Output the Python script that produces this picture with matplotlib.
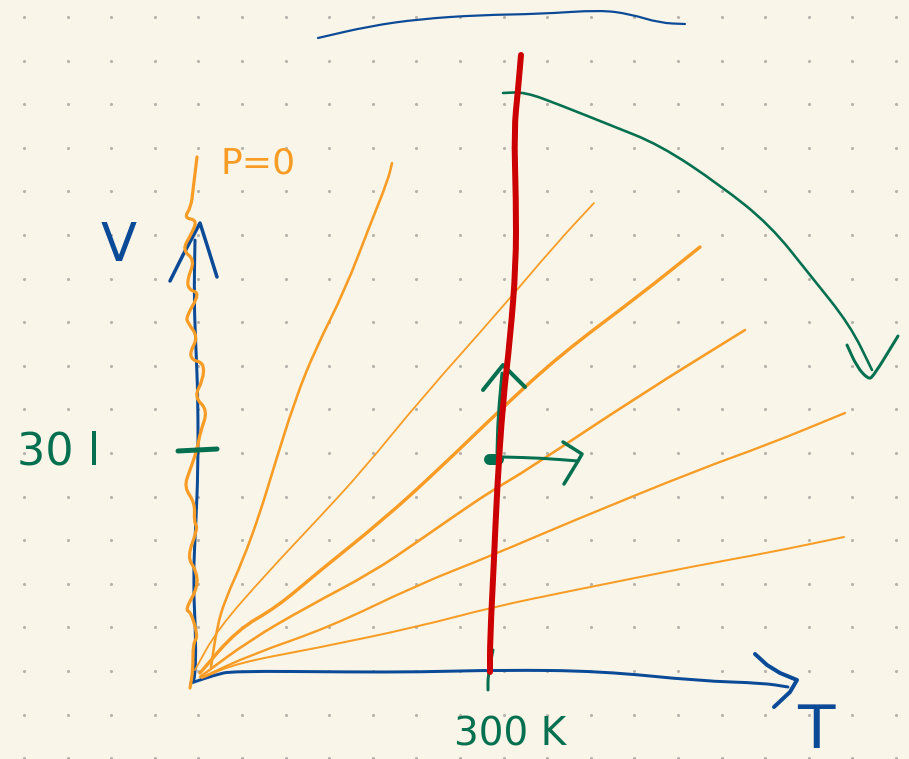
# V-T sketch: isobars, 300 K isotherm, hand-drawn look
import numpy as np
import matplotlib.pyplot as plt
from matplotlib.path import Path
from matplotlib.patches import PathPatch

W = 909
H = 759
BG = '#f9f6e9'
ORANGE = '#f89c25'
BLUE = '#0b4a97'
GREEN = '#04704f'
RED = '#cc0000'

# all strokes are (x, y)
top_x = [318, 370, 420, 480, 540, 600, 630, 660, 685]
top_y = [38, 26, 19, 15, 14, 10, 14, 23, 24]

wavy_x = [197, 193, 191, 184, 197, 192, 182, 195, 187, 189, 200, 186, 188, 198, 190, 192, 204, 203, 194, 208,
          200, 197, 190, 184, 195, 194, 198, 187, 196, 198, 185, 191, 198, 193, 193, 190]
wavy_y = [157, 190, 207, 218, 220, 233, 250, 260, 280, 290, 293, 317, 323, 337, 352, 360, 363, 380, 397, 410,
          433, 450, 470, 487, 503, 522, 528, 557, 570, 587, 610, 612, 637, 643, 670, 688]

iso_a_x = [392, 388, 370, 345, 315, 295, 273, 260, 243, 225, 217, 211]
iso_a_y = [163, 180, 225, 290, 350, 400, 470, 513, 560, 600, 627, 667]
iso_b_x = [594, 555, 500, 420, 363, 317, 267, 217, 195]
iso_b_y = [203, 245, 310, 400, 470, 520, 573, 630, 670]
iso_c_x = [700, 640, 560, 500, 438, 383, 317, 277, 237, 200]
iso_c_y = [247, 295, 355, 410, 470, 520, 573, 607, 630, 673]
iso_d_x = [745, 640, 527, 493, 463, 417, 373, 307, 250, 200]
iso_d_y = [330, 395, 470, 490, 510, 542, 572, 607, 640, 677]
iso_e_x = [845, 767, 700, 570, 493, 417, 330, 250, 203]
iso_e_y = [413, 445, 469, 522, 555, 585, 627, 655, 677]
iso_f_x = [844, 767, 700, 570, 493, 417, 317, 237, 202]
iso_f_y = [537, 553, 565, 591, 607, 627, 648, 663, 678]

v_axis_x = [195, 194, 196, 198, 198, 196, 193, 196, 195, 191]
v_axis_y = [240, 300, 350, 400, 470, 520, 580, 640, 680, 683]
v_head_x = [170, 183, 200, 207, 217]
v_head_y = [281, 255, 223, 245, 277]
t_axis_x = [191, 215, 232, 350, 420, 500, 600, 700, 763, 788]
t_axis_y = [683, 675, 671, 672, 672, 670, 671, 681, 683, 687]
t_head_x = [755, 767, 780, 797, 790, 774]
t_head_y = [654, 665, 673, 680, 692, 707]

red_x = [521, 518, 514, 516, 516, 510, 503, 497, 494, 490, 490]
red_y = [55, 90, 130, 200, 265, 340, 400, 490, 560, 640, 672]

proc_x = [503, 525, 560, 610, 660, 720, 770, 810, 850, 872]
proc_y = [93, 92, 105, 125, 145, 185, 225, 275, 325, 370]
proc_head_x = [847, 857, 868, 873, 898]
proc_head_y = [345, 367, 379, 377, 336]

tick_t_x = [493, 488, 488]
tick_t_y = [650, 675, 690]
tick_v_x = [178, 217]
tick_v_y = [451, 449]

up_x = [497, 498, 502]
up_y = [453, 417, 373]
up_head_x = [483, 503, 525]
up_head_y = [390, 365, 387]
right_x = [503, 540, 578]
right_y = [457, 458, 461]
right_head_x = [563, 582, 578, 564]
right_head_y = [442, 454, 461, 484]
blob_x = [489, 498]
blob_y = [459, 459]

fig = plt.figure(figsize=(W / 100, H / 100), dpi=100, facecolor=BG)
ax = fig.add_axes([0, 0, 1, 1])
ax.set_xlim(0, W)
ax.set_ylim(H, 0)
ax.axis('off')

# dotted paper
dots_x, dots_y = np.meshgrid(np.arange(24, W, 43.6), np.arange(17, H, 43.6))
ax.scatter(dots_x.ravel(), dots_y.ravel(), s=5, c='#b5b3ab', linewidths=0, zorder=1)


def stroke(x, y, color, px, z=2):
    ax.plot(x, y, color=color, lw=px * 0.72, solid_capstyle='round', solid_joinstyle='round', zorder=z)


def curve(x, y, color, px, z=2):
    # quadratic pieces through the midpoints, so the pen line has no corners
    pts = np.column_stack([x, y])
    mids = (pts[:-1] + pts[1:]) / 2
    verts = [pts[0], mids[0]]
    codes = [Path.MOVETO, Path.LINETO]
    for i in range(1, len(pts) - 1):
        verts += [pts[i], mids[i]]
        codes += [Path.CURVE3, Path.CURVE3]
    verts.append(pts[-1])
    codes.append(Path.LINETO)
    ax.add_patch(PathPatch(Path(verts, codes), fc='none', ec=color, lw=px * 0.72,
                           capstyle='round', joinstyle='round', zorder=z))


curve(top_x, top_y, BLUE, 2.2)
curve(v_axis_x, v_axis_y, BLUE, 3)
stroke(v_head_x, v_head_y, BLUE, 3.5)
curve(t_axis_x, t_axis_y, BLUE, 3)
stroke(t_head_x, t_head_y, BLUE, 4)

curve(wavy_x, wavy_y, ORANGE, 3.2, 3)
curve(iso_a_x, iso_a_y, ORANGE, 2.6, 3)
curve(iso_b_x, iso_b_y, ORANGE, 1.8, 3)
curve(iso_c_x, iso_c_y, ORANGE, 3.4, 3)
curve(iso_d_x, iso_d_y, ORANGE, 2.6, 3)
curve(iso_e_x, iso_e_y, ORANGE, 2.3, 3)
curve(iso_f_x, iso_f_y, ORANGE, 2, 3)

curve(tick_t_x, tick_t_y, GREEN, 3, 3)
stroke(tick_v_x, tick_v_y, GREEN, 5, 4)
curve(proc_x, proc_y, GREEN, 2.6, 4)
curve(proc_head_x, proc_head_y, GREEN, 3, 4)
curve(up_x, up_y, GREEN, 3, 4)
stroke(up_head_x, up_head_y, GREEN, 4, 4)
curve(right_x, right_y, GREEN, 3, 4)
stroke(right_head_x, right_head_y, GREEN, 3.5, 4)
stroke(blob_x, blob_y, GREEN, 11, 4)

curve(red_x, red_y, RED, 6, 5)

ax.text(258, 163, 'P=0', color=ORANGE, fontsize=26, ha='center', va='center')
ax.text(119, 246, 'V', color=BLUE, fontsize=38, ha='center', va='center')
ax.text(59, 452, '30 l', color=GREEN, fontsize=32, ha='center', va='center')
ax.text(510, 735, '300 K', color=GREEN, fontsize=28, ha='center', va='center')
ax.text(816, 731, 'T', color=BLUE, fontsize=44, ha='center', va='center')

fig.savefig('out.png', dpi=100, facecolor=BG)
